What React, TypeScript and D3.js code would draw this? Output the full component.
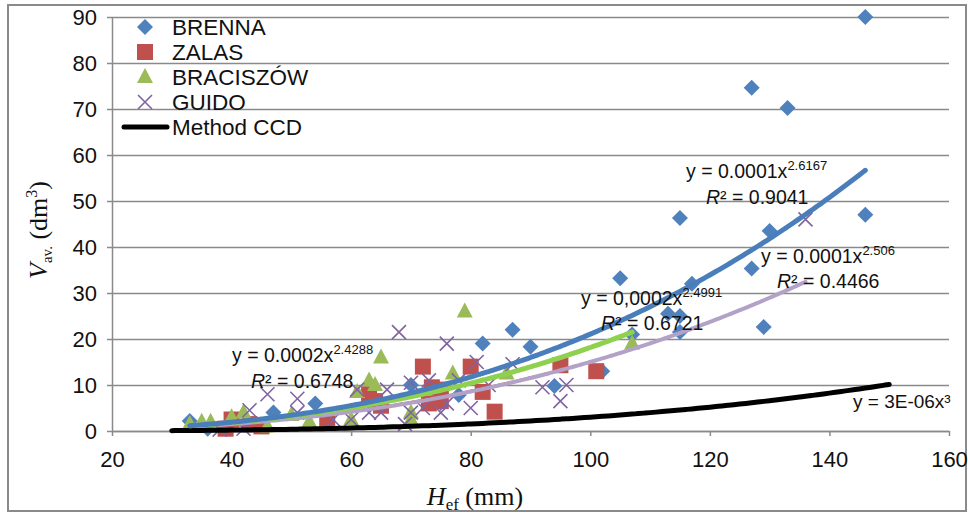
import React, { useEffect, useRef } from 'react';
import * as d3 from 'd3';

// measured points (H_ef mm, V_av dm3)
const BRENNA: [number, number][] = [
  [33, 2.2], [36, 0.5], [47, 4], [54, 6], [70, 10], [78, 7.8], [82, 19], [87, 22],
  [90, 18.3], [94, 9.8], [102, 13], [105, 33.2], [107, 21], [113, 25.5], [115, 25],
  [115, 21.5], [115, 46.3], [117, 32], [127, 74.6], [127, 35.3], [129, 22.6],
  [130, 43.5], [133, 70.2], [146, 90], [146, 47],
];
const ZALAS: [number, number][] = [
  [39, 0.5], [40, 2.5], [43, 1.5], [45, 1.0], [56, 2.2], [63, 8], [64, 6.5], [65, 5.5],
  [72, 14], [73, 6], [73.5, 9.5], [75, 9], [75, 6.5], [80, 14], [82, 8.5], [84, 4.2],
  [95, 14.3], [101, 13],
];
const BRACISZOW: [number, number][] = [
  [33, 1.5], [35, 2], [36.5, 2], [40, 3], [42, 4], [46, 1], [50, 3.5], [53, 2], [60, 2.5],
  [61, 8.5], [63, 11], [64, 10], [65, 16], [70, 4], [70, 2.5], [77, 12.5], [79, 26],
  [86, 12.5], [107, 19],
];
const GUIDO: [number, number][] = [
  [38, 0.3], [42, 0.5], [43, 4.5], [46, 8], [51, 7], [51, 4], [57, 2.5], [60, 2.5],
  [61, 9], [63, 4], [65, 4], [66, 9], [68, 21.5], [69, 1.5], [70, 10.5], [70, 4], [72, 5],
  [73, 11], [75, 4], [76, 19], [76, 6], [78, 11], [80, 5], [81, 15], [83, 10], [87, 14.5],
  [92, 9.5], [95, 6.5], [96, 10], [136, 46],
];

const SERIES_NAMES = ['BRENNA', 'ZALAS', 'BRACISZÓW', 'GUIDO'];
const SERIES_COLORS = ['#4F81BD', '#C0504D', '#9BBB59', '#8064A2'];
const SERIES_SHAPES = ['diamond', 'square', 'triangle', 'cross'];

// power trendlines y = a * x^b (a as drawn, b as labelled)
const TREND_A = [1.23e-4, 2.1e-4, 1.823e-4, 1.46e-4];
const TREND_B = [2.6167, 2.4288, 2.4991, 2.506];
const TREND_COLORS = ['#4A7EBB', '#FF0000', '#8ED14F', '#B3A2C7'];
const TREND_WIDTHS = [5, 1.5, 5, 4];
const TREND_LABELS = ['y = 0.0001x', 'y = 0.0002x', 'y = 0,0002x', 'y = 0.0001x'];
const TREND_POWERS = ['2.6167', '2.4288', '2.4991', '2.506'];
const TREND_R2 = ['0.9041', '0.6748', '0.6721', '0.4466'];
const LABEL_POS: [number, number, number, number][] = [
  [686, 178, 706, 204],
  [232, 362, 251, 388],
  [581, 305, 601, 330],
  [761, 263, 777, 288],
];

const CCD_NAME = 'Method CCD';
const CCD_A = 3e-6;
const CCD_RANGE = [30, 150];

const X_TICKS = [20, 40, 60, 80, 100, 120, 140, 160];
const Y_TICKS = [0, 10, 20, 30, 40, 50, 60, 70, 80, 90];

const W = 968;
const H = 513;
const margin = { top: 17, right: 19, bottom: 82, left: 112 };

const SANS = '"Liberation Sans", Arial, sans-serif';
const SERIF = '"Liberation Serif", "Times New Roman", serif';

const App = () => {
  const ref = useRef<SVGSVGElement>(null);

  useEffect(() => {
    const svg = d3.select(ref.current);
    svg.selectAll('*').remove();

    const x = d3.scaleLinear().domain([20, 160]).range([margin.left, W - margin.right]);
    const y = d3.scaleLinear().domain([0, 90]).range([H - margin.bottom, margin.top]);

    // outer frame
    svg.append('rect')
      .attr('x', 8).attr('y', 5).attr('width', 958).attr('height', 506)
      .attr('fill', 'white').attr('stroke', '#8a8a8a').attr('stroke-width', 2);

    // grid
    svg.append('g')
      .attr('transform', `translate(${margin.left},0)`)
      .call(d3.axisLeft(y).tickValues(Y_TICKS).tickSize(-(W - margin.right - margin.left)).tickFormat(() => ''))
      .call(g => {
        g.select('.domain').remove();
        g.selectAll('line').attr('stroke', '#8a8a8a').attr('stroke-width', 1.5);
      });

    // y axis
    svg.append('g')
      .attr('transform', `translate(${margin.left},0)`)
      .call(d3.axisLeft(y).tickValues(Y_TICKS).tickSize(5).tickPadding(10).tickSizeOuter(0))
      .call(g => {
        g.select('.domain').attr('stroke', '#8a8a8a').attr('stroke-width', 1.5);
        g.selectAll('line').attr('stroke', '#8a8a8a').attr('stroke-width', 1.5);
        g.selectAll('text')
          .attr('fill', '#111')
          .style('font-family', SANS)
          .style('font-size', '22px');
      });

    // x axis
    svg.append('g')
      .attr('transform', `translate(0,${H - margin.bottom})`)
      .call(d3.axisBottom(x).tickValues(X_TICKS).tickSize(5).tickPadding(15).tickSizeOuter(0))
      .call(g => {
        g.select('.domain').attr('stroke', '#8a8a8a').attr('stroke-width', 1.5);
        g.selectAll('line').attr('stroke', '#8a8a8a').attr('stroke-width', 1.5);
        g.selectAll('text')
          .attr('fill', '#111')
          .style('font-family', SANS)
          .style('font-size', '22px');
      });

    // markers
    const drawMarker = (g: any, shape: string, color: string, cx: number, cy: number) => {
      if (shape === 'diamond') {
        g.append('path')
          .attr('d', `M${cx},${cy - 8}L${cx + 8},${cy}L${cx},${cy + 8}L${cx - 8},${cy}Z`)
          .attr('fill', color);
      } else if (shape === 'square') {
        g.append('rect')
          .attr('x', cx - 8).attr('y', cy - 8).attr('width', 16).attr('height', 16)
          .attr('fill', color);
      } else if (shape === 'triangle') {
        g.append('path')
          .attr('d', `M${cx},${cy - 9}L${cx + 8},${cy + 6}L${cx - 8},${cy + 6}Z`)
          .attr('fill', color);
      } else {
        g.append('path')
          .attr('d', `M${cx - 7},${cy - 7}L${cx + 7},${cy + 7}M${cx + 7},${cy - 7}L${cx - 7},${cy + 7}`)
          .attr('stroke', color).attr('stroke-width', 1.6).attr('fill', 'none');
      }
    };

    const allSeries = [BRENNA, ZALAS, BRACISZOW, GUIDO];
    const marks = svg.append('g');
    allSeries.forEach((data, i) => {
      data.forEach(d => drawMarker(marks, SERIES_SHAPES[i], SERIES_COLORS[i], x(d[0]), y(d[1])));
    });

    const line = d3.line<[number, number]>()
      .x(d => x(d[0]))
      .y(d => y(d[1]))
      .curve(d3.curveMonotoneX);

    // CCD line
    const ccdPts: [number, number][] = d3.range(CCD_RANGE[0], CCD_RANGE[1] + 0.01, 1)
      .map(v => [v, CCD_A * v * v * v]);
    svg.append('path')
      .attr('d', line(ccdPts))
      .attr('fill', 'none')
      .attr('stroke', '#000')
      .attr('stroke-width', 5)
      .attr('stroke-linecap', 'round');

    // trendlines (red, purple, green, blue)
    [1, 3, 2, 0].forEach(i => {
      const [x0, x1] = d3.extent(allSeries[i], d => d[0]) as [number, number];
      const pts: [number, number][] = d3.range(x0, x1 + 0.01, 0.5)
        .map(v => [v, TREND_A[i] * Math.pow(v, TREND_B[i])]);
      svg.append('path')
        .attr('d', line(pts))
        .attr('fill', 'none')
        .attr('stroke', TREND_COLORS[i])
        .attr('stroke-width', TREND_WIDTHS[i])
        .attr('stroke-linecap', 'round');
    });

    // equations
    const eqs = svg.append('g')
      .style('font-family', SANS)
      .attr('fill', '#111');
    TREND_LABELS.forEach((lab, i) => {
      const [ex, ey, rx, ry] = LABEL_POS[i];
      const t = eqs.append('text').attr('x', ex).attr('y', ey).style('font-size', '19.5px');
      t.append('tspan').text(lab);
      t.append('tspan').attr('dy', -8).style('font-size', '13px').text(TREND_POWERS[i]);
      const r = eqs.append('text').attr('x', rx).attr('y', ry).style('font-size', '19.5px');
      r.append('tspan').style('font-style', 'italic').text('R');
      r.append('tspan').text(`² = ${TREND_R2[i]}`);
    });
    eqs.append('text')
      .attr('x', 853).attr('y', 408)
      .style('font-size', '19px')
      .text('y = 3E-06x³');

    // legend
    const legend = svg.append('g');
    SERIES_NAMES.forEach((name, i) => {
      const cy = 27 + i * 25;
      drawMarker(legend, SERIES_SHAPES[i], SERIES_COLORS[i], 145, cy);
      legend.append('text')
        .attr('x', 172).attr('y', cy + 8)
        .style('font-family', SANS)
        .style('font-size', '22.5px')
        .attr('fill', '#111')
        .text(name);
    });
    legend.append('line')
      .attr('x1', 124).attr('x2', 167).attr('y1', 127).attr('y2', 127)
      .attr('stroke', '#000').attr('stroke-width', 5).attr('stroke-linecap', 'round');
    legend.append('text')
      .attr('x', 172).attr('y', 135)
      .style('font-family', SANS)
      .style('font-size', '22.5px')
      .attr('fill', '#111')
      .text(CCD_NAME);

    // axis titles
    const xt = svg.append('text')
      .attr('x', 475).attr('y', 505)
      .attr('text-anchor', 'middle')
      .style('font-family', SERIF)
      .style('font-size', '26px')
      .attr('fill', '#111');
    xt.append('tspan').style('font-style', 'italic').text('H');
    xt.append('tspan').attr('dy', 5).style('font-size', '17px').text('ef');
    xt.append('tspan').attr('dy', -5).text(' (mm)');

    const yt = svg.append('text')
      .attr('transform', 'translate(47,230) rotate(-90)')
      .attr('text-anchor', 'middle')
      .style('font-family', SERIF)
      .style('font-size', '26px')
      .attr('fill', '#111');
    yt.append('tspan').style('font-style', 'italic').text('V');
    yt.append('tspan').attr('dy', 5).style('font-size', '15px').text('av.');
    yt.append('tspan').attr('dy', -5).text(' (dm');
    yt.append('tspan').attr('dy', -10).style('font-size', '16px').text('3');
    yt.append('tspan').attr('dy', 10).text(')');
  }, []);

  return (
    <svg
      ref={ref}
      width={W}
      height={H}
      style={{ position: 'absolute', left: 0, top: 0, background: 'white' }}
    />
  );
};

export default App;
